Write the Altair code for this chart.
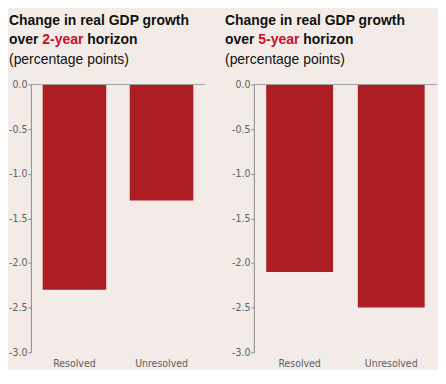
import altair as alt
import pandas as pd

categories = ["Resolved", "Unresolved"]
change_2yr = [-2.3, -1.3]
change_5yr = [-2.1, -2.5]
horizons = ["2-year", "5-year"]
title_line1 = "Change in real GDP growth"
title_over = "over"
title_horizon = "horizon"
title_line3 = "(percentage points)"
y_ticks = [0.0, -0.5, -1.0, -1.5, -2.0, -2.5, -3.0]

BG = "#f2ebe7"
RED = "#ac1e24"
TITLE_RED = "#c8102e"
TITLE_FONT = "Liberation Sans, Arial, sans-serif"
LABEL_FONT = "DejaVu Sans Condensed, Liberation Sans, sans-serif"
LABEL_GRAY = "#5f5f5f"
AXIS_GRAY = "#8a8a8a"
ZERO_GRAY = "#a0a0a0"


def text_layer(txt, x, y, color="#111111", weight="bold"):
    return alt.Chart(pd.DataFrame({"t": [txt]})).mark_text(
        align="left", baseline="alphabetic", font=TITLE_FONT, fontSize=14,
        fontWeight=weight, color=color
    ).encode(text="t:N", x=alt.value(x), y=alt.value(y))


def panel(values, horizon, dx, width):
    df = pd.DataFrame({"category": categories, "value": values})
    bars = alt.Chart(df).mark_bar(color=RED).encode(
        x=alt.X("category:N", sort=categories, title=None,
                scale=alt.Scale(paddingInner=0.27, paddingOuter=0.135),
                axis=alt.Axis(domain=False, ticks=False, labelAngle=0,
                              labelFont=LABEL_FONT, labelFontSize=10.5,
                              labelColor=LABEL_GRAY, labelPadding=6)),
        y=alt.Y("value:Q", title=None,
                scale=alt.Scale(domain=[-3, 0], nice=False, zero=False),
                axis=alt.Axis(values=y_ticks, grid=False,
                              domainColor=AXIS_GRAY, tickColor=AXIS_GRAY,
                              tickSize=3, labelFont=LABEL_FONT, labelFontSize=10.5,
                              labelColor=LABEL_GRAY, labelPadding=1,
                              labelExpr="replace(format(datum.value, '.1f'), '\u2212', '-')")),
    )
    zero = alt.Chart(pd.DataFrame({"z": [0.0]})).mark_rule(
        color=ZERO_GRAY, strokeWidth=1).encode(y="z:Q")
    titles = (
        text_layer(title_line1, dx, -60)
        + text_layer(title_over, dx, -41)
        + text_layer(horizon, dx + 33.5, -41, color=TITLE_RED)
        + text_layer(title_horizon, dx + 78.6, -41)
        + text_layer(title_line3, dx, -21, weight="normal")
    )
    return (bars + zero + titles).properties(width=width, height=269)


chart = alt.hconcat(
    panel(change_2yr, horizons[0], -22, 175),
    panel(change_5yr, horizons[1], -29, 184),
    spacing=49,
    bounds="flush",
).properties(
    background=BG,
    padding={"left": 0, "top": 5, "right": 0, "bottom": 0},
).configure_view(stroke=None)

chart.save("out.html", embed_options={"renderer": "svg", "actions": False})
